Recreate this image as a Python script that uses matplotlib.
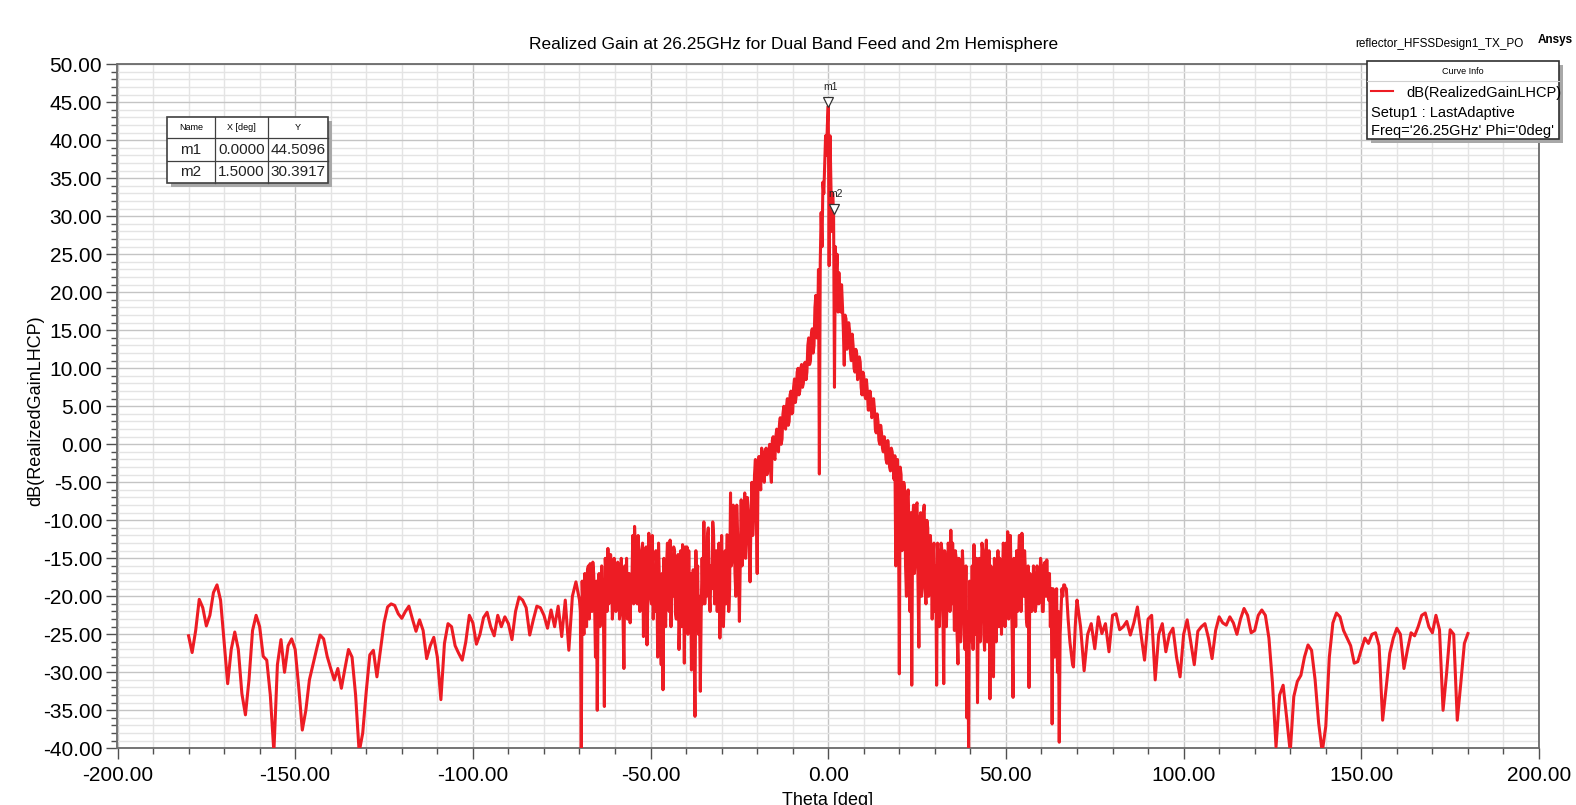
import numpy as np
import matplotlib.pyplot as plt
from matplotlib.patches import Rectangle
from matplotlib.lines import Line2D
from matplotlib.ticker import MultipleLocator, FormatStrFormatter
import matplotlib.transforms as mtransforms

plt.rcParams['font.family'] = ['Liberation Sans', 'DejaVu Sans']
plt.rcParams['axes.unicode_minus'] = False

# gain, dB
# -180 .. -70 deg, 1 deg step
gain_far_left = [
    -25.2, -27.4, -24.5, -20.4, -21.5, -23.9, -22.5, -19.5, -18.5, -20.5,
    -26.0, -31.5, -27.0, -24.7, -27.0, -32.8, -35.6, -31.0, -24.5, -22.5,
    -24.0, -27.9, -28.4, -33.0, -40.5, -29.0, -25.7, -30.0, -26.5, -25.6,
    -27.0, -32.0, -37.6, -35.0, -31.0, -29.0, -27.0, -25.1, -25.6, -27.9,
    -29.5, -31.0, -29.5, -32.1, -29.5, -27.0, -28.0, -33.0, -40.5, -38.0,
    -32.5, -27.7, -27.1, -30.6, -27.0, -23.5, -21.4, -21.0, -21.2, -22.3,
    -22.9, -22.0, -21.3, -23.0, -24.6, -23.1, -24.5, -28.2, -26.5, -25.4,
    -28.0, -33.6, -26.2, -23.6, -24.0, -26.5, -27.5, -28.4, -26.0, -22.5,
    -23.5, -26.3, -25.0, -22.8, -22.1, -24.0, -25.2, -22.5, -24.0, -22.7,
    -23.6, -25.7, -22.0, -20.1, -20.5, -21.5, -25.1, -23.1, -21.3, -21.5,
    -22.5, -24.2, -21.8, -24.0, -21.3, -25.3, -20.5, -27.1, -20.0, -18.1,
    -20.5]

# -69.75 .. -3.0 deg, 0.25 deg step
gain_left = [
    -22.0, -40.5, -18.0, -22.0, -25.0, -17.0, -23.0, -24.0, -16.5, -16.0,
    -23.0, -15.7, -19.0, -22.0, -15.5, -17.0, -21.0, -28.0, -18.0, -35.0,
    -20.0, -17.0, -24.0, -22.0, -16.0, -20.0, -23.0, -34.5, -15.0, -18.0,
    -22.0, -13.7, -21.0, -19.0, -14.5, -16.5, -23.0, -21.0, -15.0, -17.0,
    -22.0, -19.0, -15.5, -16.5, -23.0, -22.0, -15.0, -18.0, -23.0, -29.5,
    -16.0, -20.0, -15.0, -23.0, -21.0, -17.0, -23.5, -19.0, -18.0, -12.0,
    -21.0, -10.8, -14.0, -20.0, -21.0, -12.0, -15.0, -22.0, -20.0, -14.0,
    -13.0, -25.3, -14.0, -20.0, -13.5, -26.4, -20.0, -11.7, -14.0, -20.0,
    -21.0, -12.0, -23.0, -18.0, -22.0, -14.0, -16.0, -28.0, -13.0, -18.0,
    -24.0, -29.0, -17.0, -32.3, -15.0, -22.0, -24.0, -16.0, -13.0, -20.0,
    -22.0, -12.6, -24.0, -18.0, -20.0, -13.5, -14.0, -22.2, -23.0, -17.0,
    -14.5, -27.0, -22.0, -14.0, -24.0, -13.2, -17.0, -28.8, -13.5, -16.0,
    -13.5, -25.0, -14.0, -22.0, -17.0, -29.7, -24.0, -16.5, -26.0, -35.8,
    -14.0, -19.0, -16.0, -25.0, -20.0, -32.5, -22.0, -15.0, -21.0, -10.2,
    -21.0, -18.0, -20.0, -12.0, -11.0, -20.0, -22.0, -16.0, -19.0, -10.2,
    -12.0, -21.0, -19.0, -14.0, -22.0, -18.0, -13.0, -25.5, -20.0, -12.0,
    -18.0, -24.0, -20.0, -14.0, -21.0, -11.9, -12.0, -22.0, -19.0, -6.4,
    -16.0, -15.0, -8.0, -9.0, -17.0, -20.0, -8.0, -12.0, -16.0, -23.3,
    -15.0, -7.3, -16.0, -14.0, -11.0, -6.4, -15.0, -12.0, -7.0, -9.0,
    -13.0, -18.1, -10.0, -5.0, -12.0, -9.0, -4.0, -2.0, -10.0, -17.0,
    -4.0, -1.6, -4.5, -6.0, -0.5, -1.0, -4.5, -5.0, -2.0, -0.5,
    -4.0, -3.0, -1.0, 0.0, -3.5, -5.0, 0.5, 1.0, -1.5, -2.0,
    1.0, 2.0, -0.5, -1.0, 2.5, 3.5, 0.0, 0.7, 4.0, 5.0,
    2.5, 2.0, 5.0, 6.0, 2.5, 3.0, 6.5, 7.0, 4.0, 4.2,
    7.5, 8.6, 5.5, 6.4, 9.5, 10.0, 6.5, 7.0, 10.0, 10.5,
    7.5, 8.0, 10.5, 10.8, 8.5, 9.5, 13.0, 14.0, 10.5, 11.0,
    14.5, 15.2, 12.0, 13.0, 18.0, 19.6, 14.0, 15.0]

# -2.75 .. 2.75 deg, 0.25 deg step
gain_peak = [23.0, -3.9, 24.0, 30.5, 26.0, 34.5, 33.0, 37.0, 40.6, 38.0, 42.0,
             44.51, 23.5, 40.6, 34.5, 28.0, 33.0, 30.39, 7.5, 26.0, 22.6, 25.0,
             17.4]

# 3.0 .. 70.0 deg, 0.25 deg step
gain_right = [
    22.6, 19.0, 17.4, 21.0, 18.2, 15.0, 10.4, 17.0, 16.5, 12.5,
    13.9, 16.0, 15.0, 12.0, 11.0, 14.5, 13.0, 10.0, 9.5, 12.5,
    12.0, 8.5, 9.5, 11.5, 10.8, 7.5, 6.5, 9.5, 9.0, 6.5,
    6.0, 8.5, 7.0, 4.5, 4.5, 7.0, 6.0, 3.5, 3.8, 6.0,
    4.6, 2.0, 1.5, 4.0, 3.0, 0.5, 0.0, 2.5, 1.5, -0.5,
    -1.0, 1.0, 0.0, -2.0, -2.5, 0.5, -1.0, -3.0, -3.5, -0.5,
    -1.0, -3.0, -4.6, -1.5, -16.0, -5.0, -2.0, -8.0, -30.2, -3.0,
    -4.0, -14.0, -12.0, -5.0, -6.0, -16.0, -20.0, -7.0, -6.0, -13.0,
    -22.0, -9.0, -31.7, -10.0, -8.0, -17.0, -15.0, -8.0, -7.7, -18.0,
    -26.7, -10.0, -9.0, -20.0, -18.0, -9.0, -8.0, -19.0, -21.0, -10.0,
    -11.0, -20.0, -18.0, -12.0, -15.0, -23.0, -14.6, -13.0, -22.0, -16.0,
    -31.7, -13.0, -15.0, -24.0, -20.0, -13.0, -14.0, -22.0, -31.5, -14.0,
    -16.0, -24.0, -19.0, -13.0, -14.0, -22.0, -11.3, -21.0, -13.0, -18.0,
    -24.5, -14.0, -15.0, -25.0, -28.9, -15.0, -18.0, -26.0, -20.0, -14.0,
    -17.0, -25.0, -27.0, -16.0, -36.0, -22.0, -40.5, -18.0, -20.0, -26.0,
    -16.0, -27.0, -13.2, -21.0, -25.0, -15.0, -34.0, -20.0, -15.0, -26.0,
    -20.0, -13.0, -14.0, -25.0, -27.1, -15.0, -12.6, -26.0, -22.0, -14.0,
    -33.5, -16.0, -18.0, -27.0, -30.6, -15.0, -20.0, -26.0, -19.0, -14.0,
    -24.0, -15.0, -16.0, -25.0, -18.0, -13.0, -14.6, -24.0, -13.0, -22.0,
    -11.5, -23.0, -16.0, -12.0, -19.0, -25.0, -33.3, -15.0, -16.0, -24.0,
    -14.0, -22.0, -16.0, -12.0, -12.0, -22.0, -11.7, -15.0, -20.0, -14.0,
    -17.0, -23.0, -24.0, -16.0, -32.0, -17.0, -18.0, -22.0, -20.5, -16.0,
    -18.0, -22.0, -21.0, -16.0, -17.0, -21.0, -18.5, -15.0, -16.0, -22.0,
    -22.0, -16.0, -15.5, -20.0, -15.2, -19.0, -20.5, -17.0, -24.0, -19.0,
    -36.8, -19.0, -22.0, -28.0, -26.0, -19.0, -30.0, -22.0, -39.2, -25.0,
    -22.0, -19.0, -20.0, -18.5, -18.5, -19.0, -19.0, -21.0, -23.0, -24.5,
    -26.0, -27.0, -28.0, -29.0, -29.3, -26.5, -24.0, -22.0, -20.5]

# 71 .. 180 deg, 1 deg step
gain_far_right = [
    -24.0, -29.8, -25.0, -23.6, -26.9, -22.7, -24.9, -23.6, -27.3, -22.5,
    -22.3, -24.4, -24.0, -23.3, -25.1, -23.5, -21.4, -25.0, -28.4, -23.0,
    -22.5, -31.0, -25.0, -23.6, -27.3, -25.0, -24.2, -28.0, -30.6, -25.0,
    -23.1, -26.0, -29.0, -24.6, -24.0, -23.6, -25.5, -28.2, -24.5, -22.7,
    -23.5, -23.8, -22.7, -23.5, -25.0, -23.0, -21.6, -22.5, -24.8, -24.5,
    -22.5, -21.8, -22.5, -25.5, -31.4, -39.8, -33.0, -31.7, -36.0, -40.5,
    -33.2, -31.2, -30.4, -28.0, -26.4, -27.1, -31.0, -36.7, -40.5, -37.1,
    -28.0, -23.5, -22.2, -22.7, -24.5, -25.5, -26.5, -28.8, -28.6, -27.0,
    -25.5, -26.2, -25.0, -24.8, -26.5, -36.3, -32.0, -27.5, -25.5, -24.2,
    -25.0, -29.5, -27.0, -24.8, -25.2, -24.0, -22.5, -22.2, -24.0, -24.8,
    -22.5, -24.4, -35.0, -30.1, -24.4, -25.0, -36.3, -31.4, -26.2, -24.9]

marker_names = ['m1', 'm2']
marker_x = [0.0, 1.5]
marker_y = [44.5096, 30.3917]

title = 'Realized Gain at 26.25GHz for Dual Band Feed and 2m Hemisphere'

theta = np.concatenate([
    np.linspace(-180, -70, len(gain_far_left)),
    np.linspace(-69.75, -3.0, len(gain_left)),
    np.linspace(-2.75, 2.75, len(gain_peak)),
    np.linspace(3.0, 70.0, len(gain_right)),
    np.linspace(71, 180, len(gain_far_right)),
])
gain = np.concatenate([gain_far_left, gain_left, gain_peak, gain_right, gain_far_right])

W, H = 1576, 805
fig = plt.figure(figsize=(W / 100, H / 100), dpi=100)


def fx(x):
    return x / W


def fy(y):
    return 1 - y / H


# axes box in pixels
L, R, T, B = 117.5, 1539, 64.3, 748.3
ax = fig.add_axes([fx(L), fy(B), (R - L) / W, (B - T) / H])

ax.plot(theta, gain, color='#ed1c24', lw=2.2, zorder=3)
ax.set_xlim(-200, 200)
ax.set_ylim(-40, 50)

ax.xaxis.set_major_locator(MultipleLocator(50))
ax.xaxis.set_minor_locator(MultipleLocator(10))
ax.yaxis.set_major_locator(MultipleLocator(5))
ax.yaxis.set_minor_locator(MultipleLocator(1))
ax.xaxis.set_major_formatter(FormatStrFormatter('%.2f'))
ax.yaxis.set_major_formatter(FormatStrFormatter('%.2f'))
ax.grid(which='major', color='#c4c4c4', lw=1.0)
ax.grid(which='minor', color='#e4e4e4', lw=1.0)
ax.set_axisbelow(True)
ax.tick_params(which='major', length=8, width=1, color='#505050', labelsize=15, pad=3)
ax.tick_params(axis='x', which='major', pad=5)
ax.tick_params(which='minor', length=4, width=1, color='#505050')
for s in ax.spines.values():
    s.set_color('#6a6a6a')
    s.set_linewidth(1.3)

# markers
for name, mx, my in zip(marker_names, marker_x, marker_y):
    off = mtransforms.offset_copy(ax.transData, fig=fig, x=0, y=4, units='dots')
    ax.plot(mx, my, marker='v', ms=7, mfc='white', mec='#333333', mew=0.9,
            transform=off, zorder=5, clip_on=False)
    ax.annotate(name, (mx, my), xytext=(2, 14), textcoords='offset pixels',
                ha='center', va='bottom', fontsize=7.5, color='#222222', zorder=5)

# titles and labels
fig.text(fx(794), fy(45), title, ha='center', va='center', fontsize=12.5)
fig.text(fx(1355), fy(43.5), 'reflector_HFSSDesign1_TX_PO', ha='left', va='center', fontsize=8.5)
fig.text(fx(1538), fy(40), 'Ansys', ha='left', va='center', fontsize=8.5, fontweight='bold')
fig.text(fx(828), fy(800), 'Theta [deg]', ha='center', va='center', fontsize=13)
fig.text(fx(36), fy(411), 'dB(RealizedGainLHCP)', ha='center', va='center',
         rotation=90, fontsize=13)


def box(x0, y0, x1, y1, **kw):
    r = Rectangle((fx(x0), fy(y1)), (x1 - x0) / W, (y1 - y0) / H,
                  transform=fig.transFigure, **kw)
    fig.add_artist(r)


def hline(x0, x1, y, **kw):
    fig.add_artist(Line2D([fx(x0), fx(x1)], [fy(y), fy(y)], transform=fig.transFigure, **kw))


def vline(x, y0, y1, **kw):
    fig.add_artist(Line2D([fx(x), fx(x)], [fy(y0), fy(y1)], transform=fig.transFigure, **kw))


# marker table
tx0, tx1, ty0, ty1 = 166.7, 327.7, 116.7, 183.3
box(tx0 + 4, ty0 + 4, tx1 + 4, ty1 + 4, facecolor='#a8a8a8', edgecolor='none', zorder=10)
box(tx0, ty0, tx1, ty1, facecolor='white', edgecolor='#404040', lw=1.2, zorder=11)
cols = [tx0, 215, 268.3, tx1]
rows = [ty0, 138.3, 161, ty1]
for c in cols[1:-1]:
    vline(c, ty0, ty1, color='#404040', lw=0.9, zorder=12)
for r in rows[1:-1]:
    hline(tx0, tx1, r, color='#404040', lw=0.9, zorder=12)
header = ['Name', 'X [deg]', 'Y']
for i, h in enumerate(header):
    fig.text(fx((cols[i] + cols[i + 1]) / 2), fy((rows[0] + rows[1]) / 2), h,
             ha='center', va='center', fontsize=6.5, zorder=13)
for j, (name, mx, my) in enumerate(zip(marker_names, marker_x, marker_y)):
    cells = [name, '%.4f' % mx, '%.4f' % my]
    for i, t in enumerate(cells):
        fig.text(fx((cols[i] + cols[i + 1]) / 2), fy((rows[j + 1] + rows[j + 2]) / 2), t,
                 ha='center', va='center', fontsize=11, color='#222222', zorder=13)

# curve info box
cx0, cx1, cy0, cy1 = 1366.7, 1559.3, 60.7, 139
box(cx0 + 4, cy0 + 4, cx1 + 4, cy1 + 4, facecolor='#a8a8a8', edgecolor='none', zorder=10)
box(cx0, cy0, cx1, cy1, facecolor='white', edgecolor='#303030', lw=1.2, zorder=11)
hline(cx0, cx1, 81, color='#d0d0d0', lw=0.8, zorder=12)
fig.text(fx((cx0 + cx1) / 2), fy(71.5), 'Curve Info', ha='center', va='center', fontsize=6.5, zorder=13)
hline(1371, 1393, 91, color='#ed1c24', lw=1.5, zorder=13)
fig.text(fx(1406), fy(93.5), 'dB(RealizedGainLHCP)', ha='left', va='center', fontsize=10.5, zorder=13)
fig.text(fx(1371), fy(112.5), 'Setup1 : LastAdaptive', ha='left', va='center', fontsize=10.5, zorder=13)
fig.text(fx(1371), fy(131.5), "Freq='26.25GHz' Phi='0deg'", ha='left', va='center', fontsize=10.5, zorder=13)

fig.savefig('out.png', dpi=100)
